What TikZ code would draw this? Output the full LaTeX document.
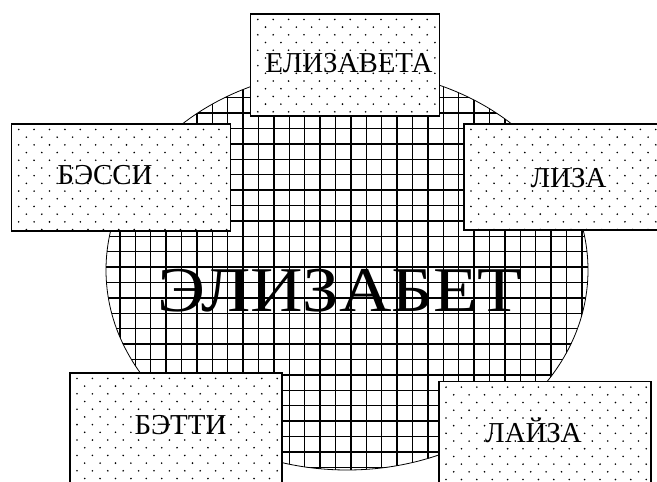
\documentclass[tikz,border=0pt]{standalone}
\usepackage{fontspec}
\setmainfont{Liberation Serif}
\usepackage{tikz}

\tikzset{
  namebox/.style={draw, line width=1.1bp, fill=white, inner sep=0pt},
  nametext/.style={anchor=base, inner sep=0pt, font=\fontsize{29}{34}\selectfont},
  bigname/.style={anchor=base, inner sep=0pt, xscale=1.14, font=\fontsize{64}{76}\selectfont}
}
% dots inside a box node
\newcommand{\dotbox}[1]{%
  \begin{scope}
  \clip (#1.south west) rectangle (#1.north east);
  \foreach \r [evaluate=\r as \off using {mod(\r,2)*7.7}] in {0,...,16}
    \foreach \c in {0,...,15}
      \fill (#1.north west) ++(\c*15.4+\off+7.5,-\r*7.7-6) circle (0.9);
  \end{scope}
  \draw [line width=1.1bp] (#1.south west) rectangle (#1.north east);
}

\begin{document}
\begin{tikzpicture}[x=1bp,y=1bp]
\useasboundingbox (0,0) rectangle (657,482);
\clip (0,0) rectangle (657,482);

% grid inside the oval
\begin{scope}
\clip (347,212) ellipse (241 and 200);
\draw [line width=1.4bp, step=15.4, shift={(12.1,14.7)}] (-30,-30) grid (660,500);
\end{scope}
\draw [line width=0.8bp] (347,212) ellipse (241 and 200);
\node [bigname] (elizabet) at (340,170) {ЭЛИЗАБЕТ};

% dotted boxes
\node [namebox, minimum width=188.3bp, minimum height=102bp] (elizavetaBox) at (345,417) {};
\dotbox{elizavetaBox}
\node [namebox, minimum width=218.3bp, minimum height=106.7bp] (bessiBox) at (120.9,304.6) {};
\dotbox{bessiBox}
\node [namebox, minimum width=218bp, minimum height=106bp] (lizaBox) at (573,305) {};
\dotbox{lizaBox}
\node [namebox, minimum width=211.7bp, minimum height=120bp] (bettiBox) at (175.9,49) {};
\dotbox{bettiBox}
\node [namebox, minimum width=211.7bp, minimum height=120bp] (laizaBox) at (544.9,40.3) {};
\dotbox{laizaBox}

\node [nametext] (elizaveta) at (349,409) {ЕЛИЗАВЕТА};
\node [nametext] (bessi) at (105,297) {БЭССИ};
\node [nametext] (liza) at (568.5,294) {ЛИЗА};
\node [nametext] (betti) at (180.5,47) {БЭТТИ};
\node [nametext] (laiza) at (533.5,39) {ЛАЙЗА};

\end{tikzpicture}
\end{document}
